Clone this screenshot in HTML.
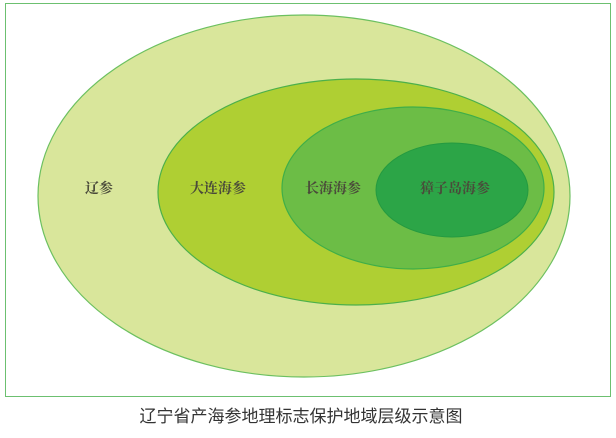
<!DOCTYPE html>
<html><head><meta charset="utf-8"><style>
html,body{margin:0;padding:0;background:#fff;width:616px;height:438px;overflow:hidden}
</style></head><body>
<svg width="616" height="438" xmlns="http://www.w3.org/2000/svg">
<rect x="5.5" y="3.5" width="605" height="393" fill="#fff" stroke="#6cc070" stroke-width="1"/>
<ellipse cx="304" cy="196" rx="266" ry="181" fill="#d9e69b" stroke="#6cc060" stroke-width="1.2"/>
<ellipse cx="356" cy="192" rx="198" ry="113" fill="#afcf33" stroke="#4cb04a" stroke-width="1.2"/>
<ellipse cx="413" cy="188" rx="131" ry="81" fill="#6cbd46" stroke="#3fae48" stroke-width="1.2"/>
<ellipse cx="452" cy="190" rx="76" ry="47" fill="#2ca547" stroke="#249a40" stroke-width="1"/>
<g font-family="'Liberation Serif','Noto Serif CJK SC',serif" font-size="14" font-weight="bold" fill="#4a4a3a">
<text x="85" y="193">辽参</text>
<text x="190" y="193">大连海参</text>
<text x="305" y="193">长海海参</text>
<text x="420" y="193">獐子岛海参</text>
</g>
<text x="301" y="422" text-anchor="middle" font-family="'Liberation Sans','Noto Sans CJK SC',sans-serif" font-size="17" fill="#333">辽宁省产海参地理标志保护地域层级示意图</text>
</svg>
</body></html>
